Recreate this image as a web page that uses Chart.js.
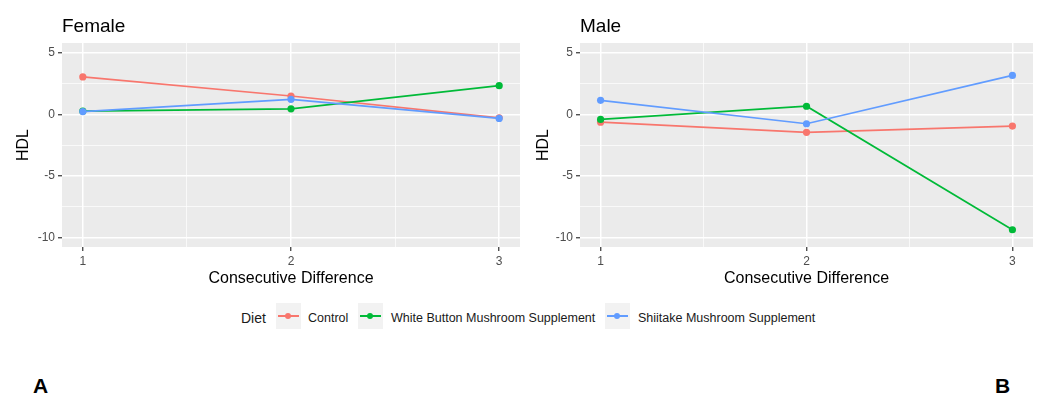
<!DOCTYPE html>
<html lang="en">
<head>
  <meta charset="utf-8">
  <title>HDL consecutive difference</title>
  <script src="https://cdn.jsdelivr.net/npm/chart.js@4"></script>
  <style>
    body { margin: 0; background: #fff; font-family: "Liberation Sans", Arial, sans-serif; }
    #page { position: relative; width: 1049px; height: 398px; overflow: hidden; }
    canvas { position: absolute; top: 0; }
    .ptitle { position: absolute; top: 15px; font-size: 19px; color: #000; line-height: 22px; }
    .leg { position: absolute; font-size: 12.5px; color: #1a1a1a; line-height: 14px; top: 311px; }
    .key { position: absolute; top: 303px; width: 25px; height: 26px; background: #F2F2F2; }
    .key i { position: absolute; left: 2px; right: 2px; top: 12px; height: 1.5px; }
    .key b { position: absolute; left: 9px; top: 10px; width: 6px; height: 6px; border-radius: 50%; }
    .panel-tag { position: absolute; top: 374px; font-size: 21px; font-weight: bold; color: #000; }
  </style>
</head>
<body>
<div id="page">
  <canvas id="female" width="528" height="295" style="left:0"></canvas>
  <canvas id="male" width="529" height="295" style="left:520px"></canvas>

  <div class="ptitle" style="left:62px">Female</div>
  <div class="ptitle" style="left:580px">Male</div>

  <!-- legend -->
  <div class="leg" style="left:241px; font-size:14px; top:309px; line-height:18px">Diet</div>
  <div class="key" style="left:276px"><i style="background:#F8766D"></i><b style="background:#F8766D"></b></div>
  <div class="leg" style="left:308px">Control</div>
  <div class="key" style="left:358px"><i style="background:#00BA38"></i><b style="background:#00BA38"></b></div>
  <div class="leg" style="left:391px">White Button Mushroom Supplement</div>
  <div class="key" style="left:605px"><i style="background:#619CFF"></i><b style="background:#619CFF"></b></div>
  <div class="leg" style="left:638px">Shiitake Mushroom Supplement</div>

  <div class="panel-tag" style="left:33px">A</div>
  <div class="panel-tag" style="left:995px">B</div>
</div>

<script>
  // data
  var diffs = [1, 2, 3];
  var dietNames = ["Control", "White Button Mushroom Supplement", "Shiitake Mushroom Supplement"];
  var dietColors = ["#F8766D", "#00BA38", "#619CFF"];

  var femaleControl  = [3.05, 1.5, -0.27];
  var femaleWhite    = [0.27, 0.46, 2.34];
  var femaleShiitake = [0.24, 1.23, -0.32];

  var maleControl  = [-0.62, -1.45, -0.94];
  var maleWhite    = [-0.4, 0.67, -9.35];
  var maleShiitake = [1.15, -0.75, 3.17];

  var yTickLabels = [-10, -5, 0, 5];

  // grey panel behind the plot
  var panelBg = {
    id: 'panelBg',
    beforeDraw: function(chart) {
      var a = chart.chartArea, ctx = chart.ctx;
      ctx.save();
      ctx.fillStyle = '#EBEBEB';
      ctx.fillRect(a.left, a.top, a.right - a.left, a.bottom - a.top);
      ctx.restore();
    }
  };

  function makeDatasets(series) {
    var ds = [];
    for (var i = 0; i < series.length; i++) {
      ds.push({
        label: dietNames[i],
        data: diffs.map(function(x, j) { return {x: x, y: series[i][j]}; }),
        borderColor: dietColors[i],
        backgroundColor: dietColors[i],
        borderWidth: 1.7,
        pointRadius: 3.6,
        pointBorderWidth: 0,
        pointHoverRadius: 3.6,
        order: 3 - i
      });
    }
    return ds;
  }

  function isMajor(v, step) { return Math.abs(v / step - Math.round(v / step)) < 1e-6; }

  function makeOptions(yWidth, padRight) {
    var tickFont = { family: 'Liberation Sans', size: 12 };
    var titleFont = { family: 'Liberation Sans', size: 16 };
    return {
      responsive: false,
      animation: false,
      events: [],
      layout: { padding: { top: 43, right: padRight, bottom: 3, left: 0 } },
      plugins: { legend: { display: false }, tooltip: { enabled: false } },
      scales: {
        x: {
          type: 'linear',
          min: 0.9, max: 3.1,
          afterFit: function(s) { s.height = 45; },
          border: { display: false },
          ticks: {
            stepSize: 0.5, includeBounds: false, autoSkip: false,
            color: '#4D4D4D', font: tickFont, padding: 3, maxRotation: 0,
            callback: function(v) { return isMajor(v, 1) ? String(v) : ''; }
          },
          grid: {
            color: '#FFFFFF',
            lineWidth: function(c) { return isMajor(c.tick.value, 1) ? 1.5 : 0.7; },
            tickLength: 4,
            tickColor: function(c) { return isMajor(c.tick.value, 1) ? '#333333' : 'rgba(0,0,0,0)'; },
            tickWidth: 1.2
          },
          title: { display: true, text: 'Consecutive Difference', color: '#000', font: titleFont, padding: { top: 0, bottom: 4 } }
        },
        y: {
          min: -10.75, max: 5.8,
          afterFit: function(s) { s.width = yWidth; },
          afterBuildTicks: function(s) {
            var t = [];
            for (var v = -10; v <= 5; v += 2.5) t.push({ value: v });
            s.ticks = t;
          },
          border: { display: false },
          ticks: {
            color: '#4D4D4D', font: tickFont, padding: 3,
            callback: function(v) { return yTickLabels.indexOf(v) >= 0 ? String(v) : ''; }
          },
          grid: {
            color: '#FFFFFF',
            lineWidth: function(c) { return isMajor(c.tick.value, 5) ? 1.5 : 0.7; },
            tickLength: 4,
            tickColor: function(c) { return isMajor(c.tick.value, 5) ? '#333333' : 'rgba(0,0,0,0)'; },
            tickWidth: 1.2
          },
          title: { display: true, text: 'HDL', color: '#000', font: titleFont, padding: { top: 14, bottom: 0 } }
        }
      }
    };
  }

  new Chart(document.getElementById('female').getContext('2d'), {
    type: 'line',
    data: { datasets: makeDatasets([femaleControl, femaleWhite, femaleShiitake]) },
    options: makeOptions(62, 8),
    plugins: [panelBg]
  });

  new Chart(document.getElementById('male').getContext('2d'), {
    type: 'line',
    data: { datasets: makeDatasets([maleControl, maleWhite, maleShiitake]) },
    options: makeOptions(60, 16),
    plugins: [panelBg]
  });
</script>
</body>
</html>
